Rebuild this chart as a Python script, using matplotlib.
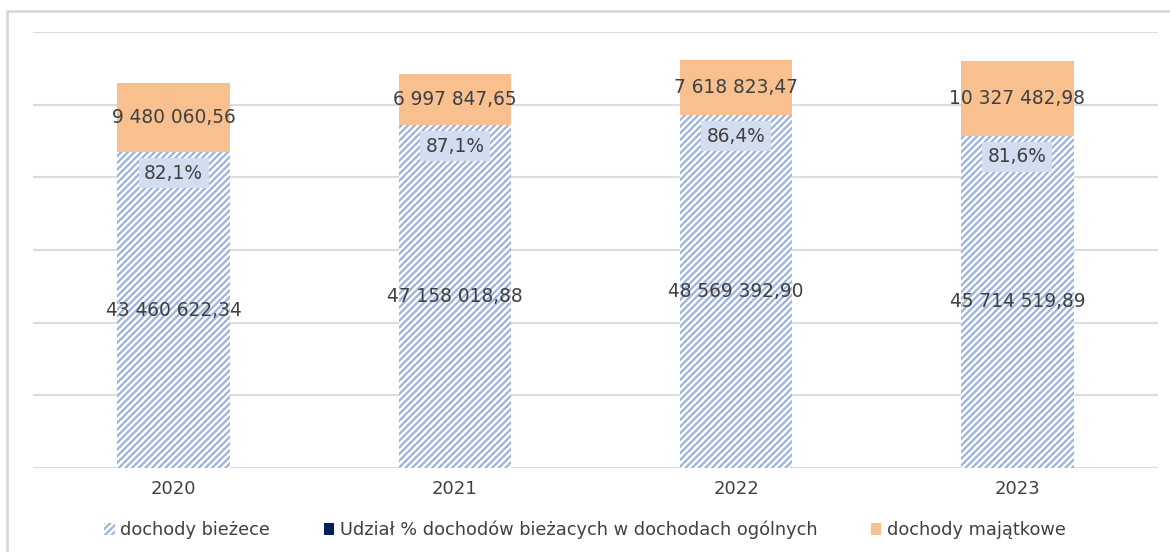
import matplotlib.pyplot as plt
import matplotlib.patches as mpatches
import numpy as np

years = ["2020", "2021", "2022", "2023"]
biezace = [43460622.34, 47158018.88, 48569392.90, 45714519.89]
majatkowe = [9480060.56, 6997847.65, 7618823.47, 10327482.98]
udzial = [82.1, 87.1, 86.4, 81.6]

def fmt(v):
    s = f"{v:,.2f}"
    return s.replace(",", " ").replace(".", ",")

plt.rcParams['font.family'] = ['DejaVu Sans']
plt.rcParams['hatch.linewidth'] = 1.6

HATCH_COL = '#9ab3de'
ORANGE = '#f8c08f'
TXT = '#404040'

fig = plt.figure(figsize=(11.7, 5.52), dpi=100)
# outer chart border
fig.patches.append(mpatches.Rectangle((7/1170, -0.1), 1.2, 1 - 11/552 + 0.1,
                                      transform=fig.transFigure, fill=False,
                                      edgecolor='#d9d9d9', linewidth=2))
ax = fig.add_axes([33/1170, 84/552, (1158-33)/1170, (468-32)/552])

x = np.arange(len(years))
w = 0.4
ax.bar(x, biezace, w, facecolor='white', hatch='/////', edgecolor=HATCH_COL, linewidth=0)
ax.bar(x, majatkowe, w, bottom=biezace, color=ORANGE, edgecolor='none')

for i in range(len(years)):
    ax.text(x[i], biezace[i] / 2, fmt(biezace[i]), ha='center', va='center',
            fontsize=13.4, color=TXT)
    ax.text(x[i], biezace[i] + majatkowe[i] / 2, fmt(majatkowe[i]), ha='center',
            va='center', fontsize=13.4, color=TXT)
    ax.text(x[i], biezace[i] - 2.9e6, f"{udzial[i]:.1f}%".replace(".", ","),
            ha='center', va='center', fontsize=13.4, color=TXT,
            bbox=dict(boxstyle='square,pad=0.3', facecolor='#d2deef',
                      edgecolor='none'))

ax.set_xlim(-0.5, 3.5)
ax.set_ylim(0, 60e6)
ax.set_yticks(np.arange(0, 60e6 + 1, 10e6))
ax.set_yticklabels([])
ax.yaxis.grid(True, color='#dcdcdc', linewidth=1.5)
ax.set_axisbelow(True)
ax.tick_params(axis='y', length=0)
ax.tick_params(axis='x', length=0, labelsize=13, labelcolor=TXT, pad=9)
ax.set_xticks(x)
ax.set_xticklabels(years)
for s in ax.spines.values():
    s.set_visible(False)

handles = [
    mpatches.Patch(facecolor='white', hatch='/////', edgecolor=HATCH_COL, linewidth=0,
                   label='dochody bieżece'),
    mpatches.Patch(facecolor='#002060', label='Udział % dochodów bieżacych w dochodach ogólnych'),
    mpatches.Patch(facecolor=ORANGE, label='dochody majątkowe'),
]
fig.legend(handles=handles, loc='center', bbox_to_anchor=(0.5, 1 - 530/552), ncol=3,
           frameon=False, fontsize=12.8, labelcolor=TXT, handlelength=0.6,
           handleheight=0.6, handletextpad=0.3, columnspacing=3.0)

fig.savefig("out.png", dpi=100)
